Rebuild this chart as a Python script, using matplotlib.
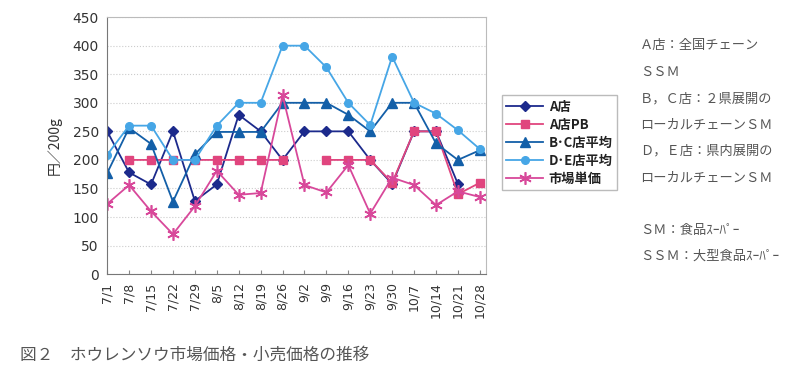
import matplotlib
matplotlib.use("Agg")
import matplotlib.pyplot as plt
import numpy as np

plt.rcParams['font.family'] = ['Noto Sans CJK JP', 'DejaVu Sans']

dates = ["7/1", "7/8", "7/15", "7/22", "7/29", "8/5", "8/12", "8/19", "8/26",
         "9/2", "9/9", "9/16", "9/23", "9/30", "10/7", "10/14", "10/21", "10/28"]

nan = np.nan
store_a = [250, 178, 157, 250, 128, 157, 279, 250, 200,
           250, 250, 250, 200, 158, 250, 250, 158, nan]
store_a_pb = [nan, 200, 200, 200, 200, 200, 200, 200, 200,
              nan, 200, 200, 200, 160, 250, 250, 140, 160]
store_bc = [177, 256, 228, 127, 210, 249, 249, 249, 300,
            300, 300, 279, 250, 300, 300, 229, 200, 217]
store_de = [209, 260, 260, 200, 200, 260, 300, 300, 400,
            400, 362, 300, 261, 381, 300, 281, 252, 219]
market = [123, 156, 110, 70, 119, 181, 139, 142, 313,
          156, 143, 191, 106, 169, 156, 121, 145, 135]

notes = ["Ａ店：全国チェーン", "ＳＳＭ", "Ｂ，Ｃ店：２県展開の", "ローカルチェーンＳＭ",
         "Ｄ，Ｅ店：県内展開の", "ローカルチェーンＳＭ", "", "ＳＭ：食品ｽｰﾊﾟｰ", "ＳＳＭ：大型食品ｽｰﾊﾟｰ"]

fig = plt.figure(figsize=(8, 3.72), dpi=100)
ax = fig.add_axes([0.134, 0.263, 0.474, 0.691])

x = np.arange(len(dates))
ax.plot(x, store_a, color="#1c2a8c", marker="D", markersize=5, lw=1.3, label="A店")
ax.plot(x, store_a_pb, color="#e0457e", marker="s", markersize=5.5, lw=1.3, label="A店PB")
ax.plot(x, store_bc, color="#135fa8", marker="^", markersize=7, lw=1.3, label="B･C店平均")
ax.plot(x, store_de, color="#46a6e6", marker="o", markersize=5.5, lw=1.3, label="D･E店平均")
ax.plot(x, market, color="#d8489a", marker=(6, 2, 0), markersize=9, mew=1.2, lw=1.3, label="市場単価")

ax.set_xlim(0, 17.3)
ax.set_ylim(0, 450)
ax.set_yticks(range(0, 451, 50))
ax.set_xticks(x)
ax.set_xticklabels(dates, rotation=90, fontsize=9, color="#333333", family="DejaVu Sans")
ax.tick_params(axis="x", direction="in", length=3, color="#888888", pad=6)
ax.tick_params(axis="y", length=0, labelsize=10, labelcolor="#333333", pad=6)
for lbl in ax.get_yticklabels():
    lbl.set_family("DejaVu Sans")
ax.grid(axis="y", color="#cccccc", linestyle=":", lw=0.8)
ax.set_axisbelow(True)
for side in ["top", "right"]:
    ax.spines[side].set_color("#bbbbbb")
for side in ["left", "bottom"]:
    ax.spines[side].set_color("#777777")
ax.set_ylabel("円／200g", fontsize=10, color="#333333", labelpad=8)

leg = fig.legend(loc="upper left", bbox_to_anchor=(0.619, 0.762), fontsize=9.5,
                 frameon=True, fancybox=False, edgecolor="#aaaaaa",
                 borderpad=0.35, labelspacing=0.3, handlelength=2.8, handletextpad=0.4)
for t in leg.get_texts():
    t.set_color("#222222")
    t.set_fontweight("bold")

for i, line in enumerate(notes):
    fig.text(0.8, 1 - (46 + i * 26.3) / 372, line, fontsize=9.5, color="#555555", va="center")

fig.text(0.025, 1 - 355 / 372, "図２　ホウレンソウ市場価格・小売価格の推移", fontsize=12,
         color="#555555", va="center")

fig.savefig("out.png", dpi=100, facecolor="white")
